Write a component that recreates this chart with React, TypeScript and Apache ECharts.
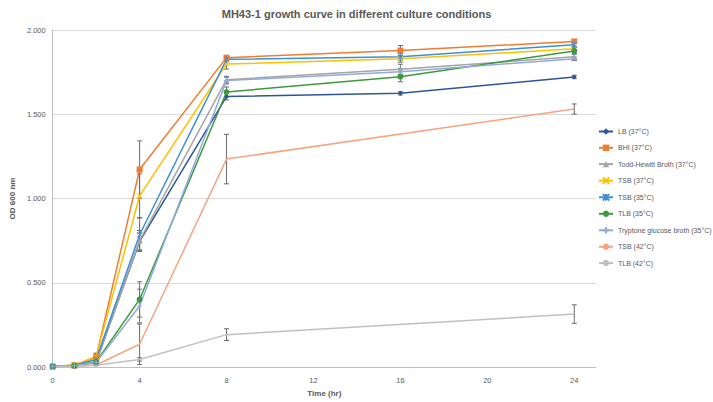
import React, { useEffect, useRef } from "react";
import * as echarts from "echarts";

const TITLE = "MH43-1 growth curve in different culture conditions";
const Y_NAME = "OD 600 nm";
const X_NAME = "Time (hr)";

const TIMES = [0, 1, 2, 4, 8, 16, 24];
const TIMES_42 = [0, 1, 2, 4, 8, 24];

const LB = [0.003, 0.008, 0.03, 0.745, 1.605, 1.624, 1.721];
const BHI = [0.003, 0.01, 0.058, 1.172, 1.836, 1.878, 1.932];
const TODD = [0.003, 0.008, 0.025, 0.75, 1.705, 1.767, 1.841];
const TSB37 = [0.003, 0.012, 0.062, 1.016, 1.798, 1.829, 1.888];
const TSB35 = [0.003, 0.01, 0.045, 0.785, 1.826, 1.841, 1.913];
const TLB35 = [0.003, 0.008, 0.03, 0.401, 1.632, 1.723, 1.876];
const TRYP = [0.003, 0.008, 0.028, 0.362, 1.7, 1.752, 1.829];
const TSB42 = [0.003, 0.005, 0.012, 0.135, 1.234, 1.531];
const TLB42 = [0.003, 0.005, 0.01, 0.045, 0.192, 0.314];

const LB_ERR = [0, 0.003, 0.01, 0.05, 0.02, 0.01, 0.01];
const BHI_ERR = [0, 0.003, 0.02, 0.17, 0.01, 0.03, 0.01];
const TODD_ERR = [0, 0.003, 0.01, 0.06, 0.02, 0.03, 0.02];
const TSB37_ERR = [0, 0.003, 0.02, 0.13, 0.03, 0.02, 0.01];
const TSB35_ERR = [0, 0.003, 0.01, 0.1, 0.01, 0.02, 0.01];
const TLB35_ERR = [0, 0.003, 0.01, 0.105, 0.03, 0.03, 0.02];
const TRYP_ERR = [0, 0.003, 0.01, 0.1, 0.02, 0.02, 0.01];
const TSB42_ERR = [0, 0.002, 0.005, 0.12, 0.147, 0.03];
const TLB42_ERR = [0, 0.002, 0.003, 0.01, 0.035, 0.055];

const Y_TICKS = [0, 0.5, 1.0, 1.5, 2.0];
const X_TICKS = [0, 4, 8, 12, 16, 20, 24];

const X_MARK = "path://M0,0L10,10M10,0L0,10";
const STAR_MARK = "path://M0,0L10,10M10,0L0,10M5,0L5,10";
const PLUS_MARK = "path://M0,5L10,5M5,0L5,10";

const SERIES = [
  { name: "LB (37°C)", t: TIMES, v: LB, e: LB_ERR, color: "#2F5597", symbol: "diamond", size: 5, stroke: false },
  { name: "BHI (37°C)", t: TIMES, v: BHI, e: BHI_ERR, color: "#ED7D31", symbol: "rect", size: 6, stroke: false },
  { name: "Todd-Hewitt Broth (37°C)", t: TIMES, v: TODD, e: TODD_ERR, color: "#A5A5A5", symbol: "triangle", size: 6, stroke: false },
  { name: "TSB (37°C)", t: TIMES, v: TSB37, e: TSB37_ERR, color: "#FFC000", symbol: X_MARK, size: 5, stroke: true },
  { name: "TSB (35°C)", t: TIMES, v: TSB35, e: TSB35_ERR, color: "#3D8FD6", symbol: STAR_MARK, size: 5, stroke: true },
  { name: "TLB (35°C)", t: TIMES, v: TLB35, e: TLB35_ERR, color: "#3C9A3C", symbol: "circle", size: 6, stroke: false },
  { name: "Tryptone glucose broth (35°C)", t: TIMES, v: TRYP, e: TRYP_ERR, color: "#8FAADC", symbol: PLUS_MARK, size: 5, stroke: true },
  { name: "TSB (42°C)", t: TIMES_42, v: TSB42, e: TSB42_ERR, color: "#F4A582", symbol: "none", size: 0, stroke: false },
  { name: "TLB (42°C)", t: TIMES_42, v: TLB42, e: TLB42_ERR, color: "#C0C0C0", symbol: "none", size: 0, stroke: false },
];

const FONT = "'Liberation Sans', Arial, sans-serif";
const TEXT_COLOR = "#595959";

export default function App() {
  const ref = useRef<HTMLDivElement>(null);
  useEffect(() => {
    if (!ref.current) return;
    const chart = echarts.init(ref.current, undefined, { renderer: "svg" });

    const lineSeries = SERIES.map((s) => ({
      name: s.name,
      type: "line",
      data: s.t.map((t, i) => [t, s.v[i]]),
      symbol: s.symbol,
      symbolSize: s.size,
      showSymbol: s.symbol !== "none",
      lineStyle: { color: s.color, width: 1.5 },
      itemStyle: s.stroke
        ? { color: s.color, borderColor: s.color, borderWidth: 1 }
        : { color: s.color, borderWidth: 0 },
      z: 3,
    }));

    const errSeries = SERIES.map((s) => ({
      name: s.name + " err",
      type: "custom",
      z: 2,
      silent: true,
      data: s.t
        .map((t, i) => [t, s.v[i] - s.e[i], s.v[i] + s.e[i], s.e[i]])
        .filter((d) => d[3] > 0.004),
      renderItem: (params: any, api: any) => {
        const x = api.value(0);
        const lo = api.coord([x, api.value(1)]);
        const hi = api.coord([x, api.value(2)]);
        const w = 2.5;
        const style = { stroke: "#6b6b6b", lineWidth: 1 };
        return {
          type: "group",
          children: [
            { type: "line", shape: { x1: lo[0], y1: lo[1], x2: hi[0], y2: hi[1] }, style },
            { type: "line", shape: { x1: lo[0] - w, y1: lo[1], x2: lo[0] + w, y2: lo[1] }, style },
            { type: "line", shape: { x1: hi[0] - w, y1: hi[1], x2: hi[0] + w, y2: hi[1] }, style },
          ],
        };
      },
    }));

    chart.setOption({
      animation: false,
      backgroundColor: "#ffffff",
      textStyle: { fontFamily: FONT },
      title: {
        text: TITLE,
        left: "center",
        top: 3,
        textStyle: { fontFamily: FONT, fontSize: 11, fontWeight: "bold", color: TEXT_COLOR },
      },
      legend: {
        orient: "vertical",
        left: 598,
        top: 127.5,
        padding: 0,
        data: SERIES.map((s) => s.name),
        itemWidth: 14,
        itemHeight: 8,
        itemGap: 8.3,
        textStyle: { fontFamily: FONT, fontSize: 7, lineHeight: 8, color: TEXT_COLOR },
      },
      grid: { left: 36, right: 117, top: 30, bottom: 28, containLabel: false },
      xAxis: {
        type: "value",
        min: 0,
        max: 25,
        interval: 4,
        name: X_NAME,
        nameLocation: "middle",
        nameGap: 22,
        nameTextStyle: { fontFamily: FONT, fontSize: 8, fontWeight: "bold", color: TEXT_COLOR },
        axisLine: { show: true, lineStyle: { color: "#BFBFBF", width: 1 } },
        axisTick: { show: false },
        splitLine: { show: false },
        axisLabel: {
          fontFamily: FONT,
          fontSize: 7.5,
          color: TEXT_COLOR,
          margin: 9,
          showMaxLabel: false,
          formatter: (v: number) => (X_TICKS.indexOf(v) >= 0 ? String(v) : ""),
        },
      },
      yAxis: {
        type: "value",
        min: 0,
        max: 2,
        interval: 0.5,
        name: Y_NAME,
        nameLocation: "middle",
        nameGap: 31,
        nameRotate: 90,
        nameTextStyle: { fontFamily: FONT, fontSize: 8, fontWeight: "bold", color: TEXT_COLOR },
        axisLine: { show: true, lineStyle: { color: "#BFBFBF", width: 1 } },
        axisTick: { show: false },
        splitLine: { show: true, lineStyle: { color: "#D9D9D9", width: 1 } },
        axisLabel: {
          fontFamily: FONT,
          fontSize: 7.5,
          color: TEXT_COLOR,
          margin: 7,
          formatter: (v: number) => (Y_TICKS.indexOf(v) >= 0 ? v.toFixed(3) : ""),
        },
      },
      series: [...errSeries, ...lineSeries],
    });

    return () => chart.dispose();
  }, []);

  return (
    <div
      ref={ref}
      style={{ position: "fixed", left: 0, top: 0, width: 713, height: 402 }}
    />
  );
}
